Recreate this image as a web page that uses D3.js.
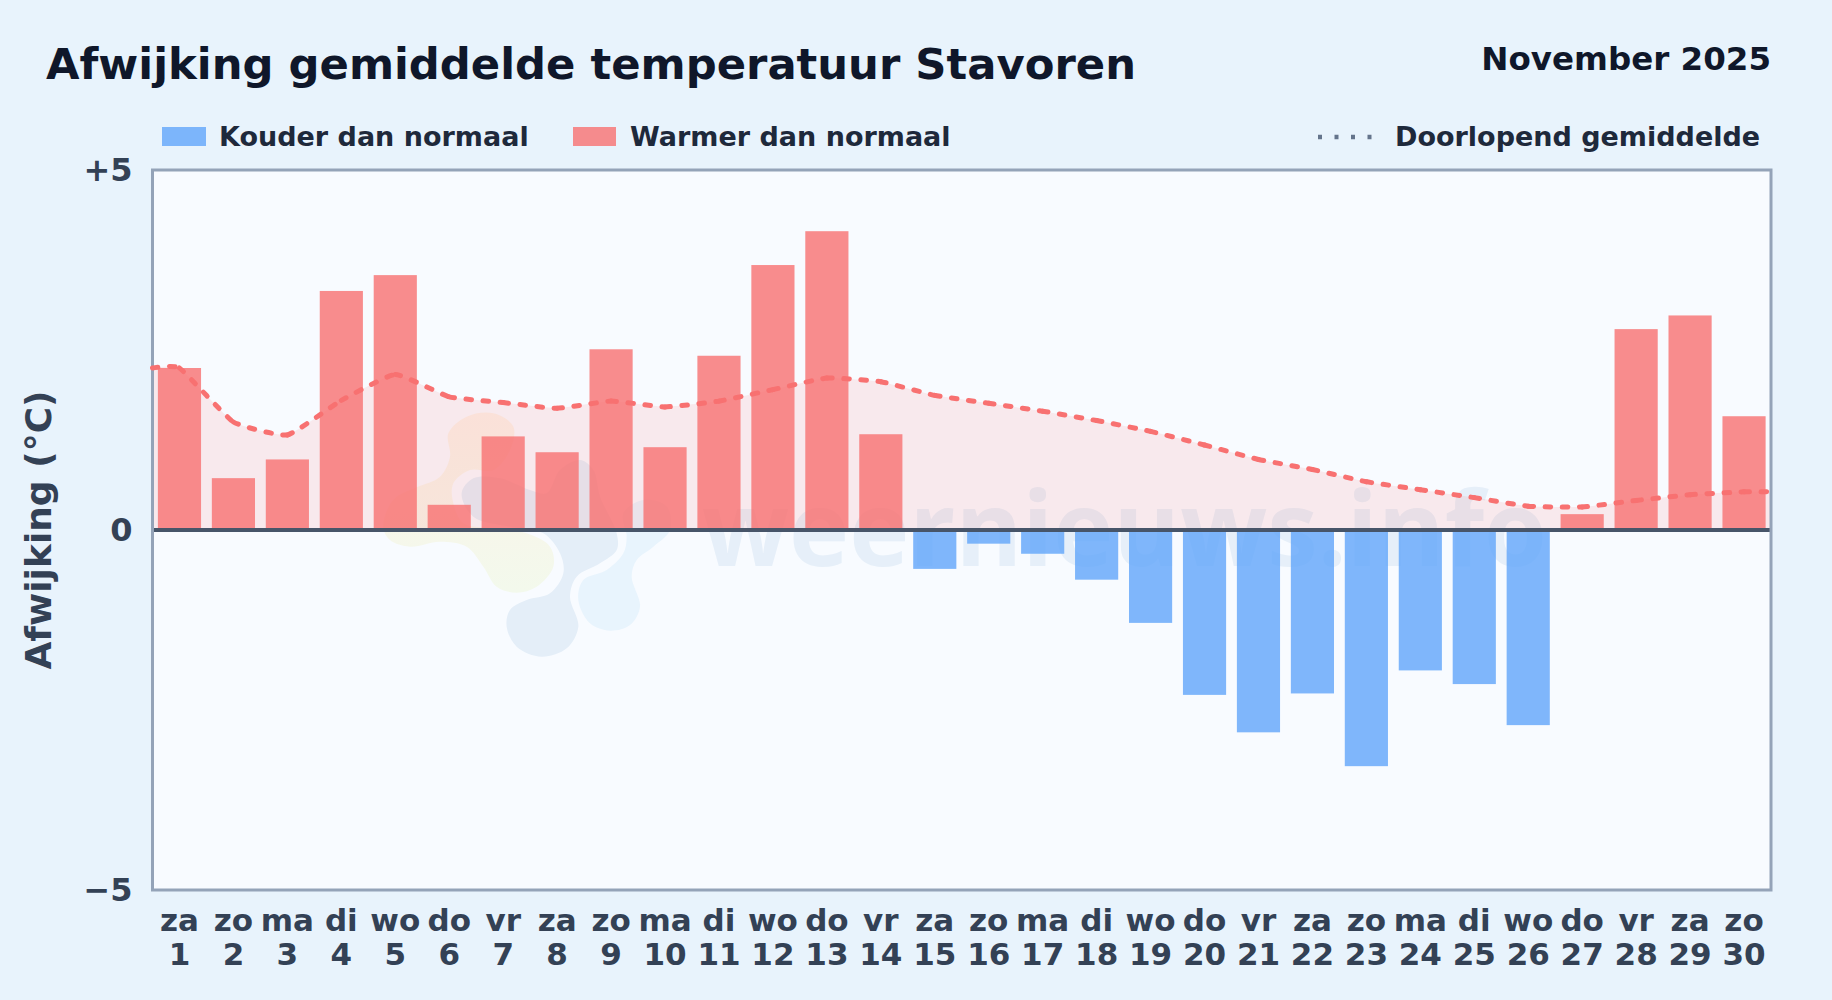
<!DOCTYPE html>
<html lang="nl">
<head>
<meta charset="UTF-8">
<title>Afwijking gemiddelde temperatuur Stavoren</title>
<script src="https://d3js.org/d3.v7.min.js"></script>
<style>
  html, body { margin: 0; padding: 0; background: #e8f3fc; }
  svg { display: block; font-family: "DejaVu Sans", sans-serif; font-weight: bold; }
  .axis text { fill: #334155; font-size: 31px; font-family: "DejaVu Sans", sans-serif; font-weight: bold; }
  .legend text { fill: #1e293b; font-size: 27px; }
</style>
</head>
<body>
<svg id="chart" width="1832" height="1000"></svg>
<script>
const dayNames = ["za","zo","ma","di","wo","do","vr","za","zo","ma","di","wo","do","vr","za","zo","ma","di","wo","do","vr","za","zo","ma","di","wo","do","vr","za","zo"];
const days = [1,2,3,4,5,6,7,8,9,10,11,12,13,14,15,16,17,18,19,20,21,22,23,24,25,26,27,28,29,30];
const deviation = [2.25,0.72,0.98,3.32,3.54,0.35,1.30,1.08,2.51,1.15,2.42,3.68,4.15,1.33,-0.54,-0.19,-0.33,-0.69,-1.29,-2.29,-2.81,-2.27,-3.28,-1.95,-2.14,-2.71,0.22,2.79,2.98,1.58];
const runningMean = [2.25,1.50,1.32,1.80,2.16,1.85,1.77,1.69,1.79,1.71,1.79,1.95,2.11,2.06,1.87,1.76,1.65,1.52,1.37,1.18,0.98,0.84,0.67,0.56,0.45,0.33,0.32,0.41,0.49,0.53];
const yTicks = [5, 0, -5];

const plotL = 152.5, plotR = 1771, plotT = 170, plotB = 890;

const svg = d3.select("#chart");

svg.append("rect").attr("width", 1832).attr("height", 1000).attr("fill", "#e8f3fc");

const x = d3.scaleBand().domain(days).range([plotL, plotR]).paddingInner(0.2).paddingOuter(0.1);
const y = d3.scaleLinear().domain([-5, 5]).range([plotB, plotT]);
const cx = d => x(d) + x.bandwidth() / 2;

// plot background
svg.append("rect").attr("x", plotL).attr("y", plotT).attr("width", plotR - plotL).attr("height", plotB - plotT).attr("fill", "#f8fbff");

// watermark: logo + site name
const grad = svg.append("defs").append("linearGradient").attr("id", "wmGrad")
  .attr("gradientUnits", "userSpaceOnUse").attr("x1", 0).attr("x2", 0).attr("y1", 413).attr("y2", 590);
grad.append("stop").attr("offset", "0%").attr("stop-color", "#fcf2e8");
grad.append("stop").attr("offset", "100%").attr("stop-color", "#f3f9ec");

const blob = d3.line().curve(d3.curveCatmullRomClosed.alpha(0.5)).x(d => d[0] / 3 + 360).y(d => d[1] / 3 + 400);
const logo = [
  { c: "url(#wmGrad)", p: [[265,100],[320,50],[400,40],[460,80],[450,150],[400,210],[330,210],[280,250],[280,310],[310,370],[400,385],[500,400],[570,440],[580,500],[530,560],[470,578],[410,560],[370,500],[320,440],[240,425],[150,440],[90,420],[70,380],[100,300],[170,262],[240,230],[270,170]] },
  { c: "#e4eef8", p: [[305,280],[340,235],[420,235],[510,270],[560,280],[600,210],[660,180],[700,210],[720,290],[770,400],[770,450],[720,490],[650,530],[630,590],[655,680],[620,745],[545,770],[470,740],[440,680],[450,630],[500,600],[570,580],[610,520],[600,460],[550,400],[450,380],[340,350]] },
  { c: "#e8f4fd", p: [[655,600],[670,540],[740,510],[790,460],[800,410],[790,340],[850,300],[920,320],[930,390],[880,440],[830,480],[815,530],[840,620],[810,675],[750,692],[690,670]] }
];
svg.append("g").selectAll("path").data(logo).join("path").attr("d", d => blob(d.p)).attr("fill", d => d.c);
svg.append("text").attr("x", 702).attr("y", 566).attr("textLength", 845).attr("lengthAdjust", "spacingAndGlyphs")
  .attr("font-family", "'Open Sans', sans-serif").attr("font-weight", 700).attr("font-size", 104)
  .attr("fill", "#e6eff9").text("weernieuws.info");

// running mean, extended flat to the plot edges
const pts = [[plotL, y(runningMean[0])]]
  .concat(days.map((d, i) => [cx(d), y(runningMean[i])]))
  .concat([[plotR, y(runningMean[runningMean.length - 1])]]);
const curve = d3.curveCardinal.tension(0.6);

svg.append("path")
  .attr("d", d3.area().curve(curve).x(d => d[0]).y0(y(0)).y1(d => d[1])(pts))
  .attr("fill", "#f87171").attr("fill-opacity", 0.13);

svg.append("g").selectAll("rect").data(days).join("rect")
  .attr("x", d => x(d))
  .attr("width", x.bandwidth())
  .attr("y", (d, i) => y(Math.max(0, deviation[i])))
  .attr("height", (d, i) => Math.abs(y(deviation[i]) - y(0)))
  .attr("fill", (d, i) => deviation[i] < 0 ? "#60a5fa" : "#f87171")
  .attr("fill-opacity", 0.8);

// zero line and frame
svg.append("line").attr("x1", plotL).attr("x2", plotR).attr("y1", y(0)).attr("y2", y(0))
  .attr("stroke", "#475569").attr("stroke-width", 4);
svg.append("rect").attr("x", plotL).attr("y", plotT).attr("width", plotR - plotL).attr("height", plotB - plotT)
  .attr("fill", "none").attr("stroke", "#94a3b8").attr("stroke-width", 3);

// line: one path per day so the dash pattern restarts at each point
const lineD = d3.line().curve(curve)(pts);
const cmds = lineD.match(/[MC][^MC]*/g);
let prev = cmds[0].slice(1);
const segs = cmds.slice(1).map(c => {
  const s = "M" + prev + c;
  prev = c.slice(1).split(",").slice(-2).join(",");
  return s;
});
svg.append("g").selectAll("path").data(segs).join("path")
  .attr("d", d => d).attr("fill", "none")
  .attr("stroke", "#f87171").attr("stroke-width", 5).attr("stroke-linecap", "round")
  .attr("stroke-dasharray", "5.5 11.5");

// axes
const yAxis = svg.append("g").attr("class", "axis").attr("transform", `translate(${plotL},0)`)
  .call(d3.axisLeft(y).tickValues(yTicks).tickSize(0).tickPadding(20)
    .tickFormat(d => d > 0 ? "+" + d : d < 0 ? "\u2212" + Math.abs(d) : "0"));
yAxis.select(".domain").remove();
yAxis.selectAll(".tick text").style("font-size", "32px");

const xAxis = svg.append("g").attr("class", "axis").attr("transform", `translate(0,${plotB})`)
  .call(d3.axisBottom(x).tickSize(0).tickFormat(""));
xAxis.select(".domain").remove();
xAxis.selectAll(".tick text").each(function (d, i) {
  const t = d3.select(this).attr("y", 0).attr("dy", null).text(null);
  t.append("tspan").attr("x", 0).attr("y", 41).text(dayNames[i]);
  t.append("tspan").attr("x", 0).attr("y", 75).text(d);
});

svg.append("text").attr("transform", "translate(51,530) rotate(-90)").attr("text-anchor", "middle")
  .attr("font-size", 36).attr("fill", "#334155").text("Afwijking (°C)");

// titles
svg.append("text").attr("x", 46).attr("y", 79).attr("font-size", 43.3).attr("fill", "#0f172a")
  .text("Afwijking gemiddelde temperatuur Stavoren");
svg.append("text").attr("x", 1771).attr("y", 70).attr("text-anchor", "end").attr("font-size", 32.5).attr("fill", "#0f172a")
  .text("November 2025");

// legend
const legend = svg.append("g").attr("class", "legend");
legend.append("rect").attr("x", 162).attr("y", 127).attr("width", 44).attr("height", 19).attr("fill", "#60a5fa").attr("fill-opacity", 0.8);
legend.append("text").attr("x", 219).attr("y", 146).text("Kouder dan normaal");
legend.append("rect").attr("x", 573).attr("y", 127).attr("width", 43).attr("height", 19).attr("fill", "#f87171").attr("fill-opacity", 0.8);
legend.append("text").attr("x", 630).attr("y", 146).text("Warmer dan normaal");
legend.append("line").attr("x1", 1318).attr("x2", 1376).attr("y1", 137).attr("y2", 137)
  .attr("stroke", "#64748b").attr("stroke-width", 4.5).attr("stroke-dasharray", "4 12.5");
legend.append("text").attr("x", 1395).attr("y", 146).text("Doorlopend gemiddelde");
</script>
</body>
</html>
